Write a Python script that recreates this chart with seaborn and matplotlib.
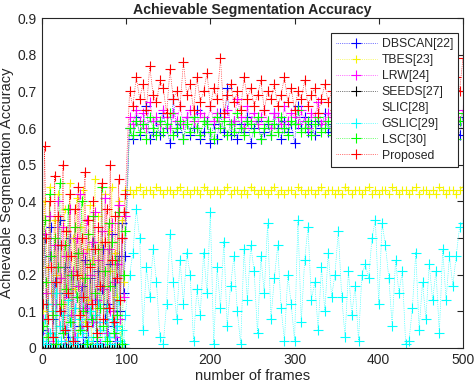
import numpy as np
import pandas as pd
import seaborn as sns
import matplotlib.pyplot as plt

# frames: first 100 sampled every 2, rest every 4
frames_a = list(range(1, 101, 2))
frames_b = list(range(104, 501, 4))

# values in hundredths
dbscan_a = [5, 30, 12, 2, 25, 33, 8, 18, 1, 28, 35, 10, 4, 22, 15, 3, 30, 9, 20, 2,
            14, 26, 6, 17, 1, 24, 11, 3, 19, 7, 29, 13, 2, 21, 5, 16, 27, 8, 12, 3,
            23, 31, 6, 18, 2, 25, 10, 34, 15, 25]
dbscan_b = [60, 57, 63, 58, 61, 66, 57, 59, 62, 58, 64, 60, 56, 68, 59, 61, 57, 63, 58, 60,
            65, 57, 59, 62, 56, 61, 57, 64, 59, 71, 58, 62, 57, 61, 59, 63, 56, 60, 62, 57,
            59, 61, 58, 64, 60, 57, 62, 59, 61, 56, 66, 60, 63, 59, 61, 58, 62, 60, 64, 59,
            61, 58, 63, 60, 57, 62, 59, 61, 58, 64, 60, 57, 62, 59, 61, 58, 60, 63, 57, 62,
            58, 61, 64, 59, 57, 62, 60, 56, 63, 59, 61, 58, 65, 60, 57, 62, 59, 61, 58, 63]

tbes_a = [10, 40, 3, 22, 44, 15, 1, 35, 20, 42, 6, 28, 12, 38, 2, 25, 45, 9, 30, 16,
          41, 4, 33, 19, 43, 7, 27, 13, 39, 1, 24, 46, 11, 36, 5, 29, 17, 42, 3, 32,
          21, 44, 8, 26, 14, 40, 2, 35, 18, 43]
tbes_b = [43, 42, 43, 44, 42, 43, 43, 42, 44, 43, 42, 43, 43, 42, 43, 44, 42, 43, 42, 43,
          43, 42, 44, 43, 42, 43, 43, 42, 43, 44, 42, 43, 43, 42, 43, 42, 44, 43, 42, 43,
          43, 42, 43, 44, 42, 43, 42, 43, 43, 42, 44, 43, 42, 43, 43, 42, 43, 44, 42, 43,
          43, 42, 43, 42, 44, 43, 42, 43, 43, 42, 43, 44, 42, 43, 42, 43, 43, 42, 44, 43,
          42, 43, 43, 42, 43, 44, 42, 43, 43, 42, 43, 42, 44, 43, 42, 43, 43, 42, 43, 44]

lrw_a = [8, 31, 15, 4, 36, 22, 2, 28, 12, 40, 6, 19, 33, 1, 25, 14, 38, 9, 21, 3,
         30, 17, 42, 5, 26, 11, 35, 2, 20, 29, 7, 37, 13, 24, 1, 32, 16, 41, 4, 27,
         10, 34, 18, 3, 23, 39, 8, 30, 14, 36]
lrw_b = [63, 61, 65, 62, 64, 60, 67, 62, 63, 61, 65, 63, 60, 64, 62, 66, 61, 63, 65, 62,
         60, 64, 63, 61, 66, 62, 64, 60, 63, 65, 61, 62, 68, 63, 60, 66, 62, 64, 61, 63,
         65, 62, 60, 64, 63, 61, 66, 62, 64, 63, 61, 65, 62, 60, 64, 63, 67, 61, 62, 64,
         63, 60, 65, 62, 64, 61, 63, 66, 62, 60, 64, 63, 61, 65, 62, 64, 60, 63, 66, 62,
         61, 64, 62, 65, 60, 63, 67, 62, 61, 64, 63, 60, 65, 62, 64, 61, 66, 63, 62, 65]

seeds_a = [0, 0, 0, 0, 0, 0, 0, 0, 0, 0, 0, 0, 0, 0, 0, 0, 0, 0, 0, 0,
           0, 0, 0, 0, 0, 0, 0, 0, 0, 0, 0, 0, 0, 0, 0, 0, 0, 0, 0, 0,
           0, 0, 0, 0, 0, 0, 0, 0, 0, 0]

gslic_a = [2, 8, 1, 12, 4, 0, 10, 3, 15, 1, 6, 2, 9, 0, 5, 13, 2, 7, 1, 11,
           3, 0, 8, 4, 14, 1, 6, 2, 10, 0, 3, 9, 1, 12, 5, 0, 7, 2, 11, 3,
           1, 8, 4, 0, 6, 13, 2, 5, 1, 9]
gslic_b = [20, 26, 38, 30, 5, 22, 14, 27, 18, 3, 1, 12, 31, 18, 8, 24, 12, 26, 20, 2,
           16, 9, 26, 15, 37, 1, 22, 11, 29, 6, 17, 25, 10, 1, 27, 13, 28, 21, 4, 25,
           15, 34, 8, 19, 28, 11, 2, 20, 12, 2, 35, 7, 24, 33, 13, 18, 5, 22, 10, 26,
           14, 20, 32, 14, 3, 21, 9, 17, 2, 20, 23, 19, 30, 35, 12, 34, 28, 19, 6, 24,
           15, 21, 1, 2, 11, 26, 5, 18, 8, 23, 13, 21, 4, 27, 13, 25, 17, 25, 33, 34]

lsc_a = [6, 35, 18, 3, 42, 25, 9, 30, 1, 22, 45, 12, 4, 28, 16, 38, 7, 20, 2, 33,
         14, 26, 5, 40, 10, 19, 1, 31, 23, 8, 36, 15, 3, 27, 11, 44, 6, 21, 2, 34,
         17, 29, 4, 24, 9, 37, 13, 1, 20, 32]
lsc_b = [60, 58, 62, 59, 61, 57, 63, 60, 58, 62, 59, 61, 64, 58, 60, 62, 57, 61, 59, 63,
         60, 58, 62, 61, 59, 57, 63, 60, 62, 58, 61, 59, 64, 60, 58, 62, 61, 59, 63, 57,
         60, 62, 58, 61, 59, 63, 60, 58, 62, 61, 65, 59, 60, 62, 58, 61, 63, 59, 60, 62,
         58, 61, 59, 64, 60, 58, 62, 61, 59, 63, 57, 60, 62, 58, 61, 59, 63, 60, 58, 62,
         59, 61, 63, 58, 60, 62, 57, 61, 64, 59, 60, 62, 58, 61, 63, 59, 60, 57, 62, 64]

prop_a = [12, 55, 30, 8, 40, 22, 3, 47, 18, 36, 10, 28, 50, 5, 32, 15, 42, 25, 2, 38,
          20, 44, 9, 30, 14, 48, 6, 35, 22, 12, 40, 27, 4, 33, 17, 45, 8, 29, 38, 11,
          50, 24, 7, 36, 19, 46, 13, 30, 37, 42]
prop_b = [70, 66, 74, 68, 72, 65, 77, 69, 67, 73, 71, 64, 76, 68, 70, 66, 78, 69, 72, 65,
          74, 67, 70, 75, 66, 71, 68, 79, 64, 69, 72, 67, 70, 65, 74, 68, 71, 66, 69, 73,
          65, 70, 68, 72, 66, 69, 74, 67, 71, 65, 70, 68, 73, 66, 69, 71, 64, 68, 72, 67,
          70, 65, 69, 73, 66, 70, 68, 71, 65, 69, 72, 67, 70, 66, 68, 71, 65, 73, 70, 67,
          69, 72, 66, 70, 74, 67, 71, 65, 69, 73, 68, 70, 66, 72, 69, 71, 67, 74, 70, 79]

labels = ['DBSCAN[22]', 'TBES[23]', 'LRW[24]', 'SEEDS[27]', 'SLIC[28]',
          'GSLIC[29]', 'LSC[30]', 'Proposed']
colors = ['#0000ff', '#f5f500', '#ff00ff', '#000000', '#ffffff',
          '#00ffff', '#00ff00', '#ff0000']

series = [
    (frames_a + frames_b, dbscan_a + dbscan_b),
    (frames_a + frames_b, tbes_a + tbes_b),
    (frames_a + frames_b, lrw_a + lrw_b),
    (frames_a, seeds_a),
    (frames_a, seeds_a),
    (frames_a + frames_b, gslic_a + gslic_b),
    (frames_a + frames_b, lsc_a + lsc_b),
    (frames_a + frames_b, prop_a + prop_b),
]

sns.set_style("white")
plt.rcParams['font.family'] = ['Liberation Sans', 'DejaVu Sans']

fig = plt.figure(figsize=(4.74, 3.87), dpi=100)
ax = fig.add_axes([0.0886, 0.101, 0.888, 0.852])

for (x, y), lab, c in zip(series, labels, colors):
    df = pd.DataFrame({'frame': x, 'acc': np.array(y) / 100})
    z = 1.5 if lab == 'SLIC[28]' else 2
    ms = 5.5 if lab == 'TBES[23]' else 7
    sns.lineplot(data=df, x='frame', y='acc', color=c, linestyle=':', linewidth=0.5,
                 marker='+', markersize=ms, markeredgecolor=c, markeredgewidth=0.8,
                 label=lab, ax=ax, estimator=None, sort=False, zorder=z)

ax.set_xlim(0, 500)
ax.set_ylim(0, 0.9)
ax.set_xticks([0, 100, 200, 300, 400, 500])
ax.set_yticks(np.arange(0, 0.91, 0.1))
ax.set_yticklabels(['0', '0.1', '0.2', '0.3', '0.4', '0.5', '0.6', '0.7', '0.8', '0.9'])
ax.tick_params(direction='in', length=4, width=0.8, top=True, right=True,
               labelsize=10, colors='#262626', pad=4)
for s in ax.spines.values():
    s.set_color('#262626')
    s.set_linewidth(0.8)

ax.set_title('Achievable Segmentation Accuracy', fontsize=10.2, fontweight='bold', pad=3)
ax.set_xlabel('number of frames', fontsize=10.5, labelpad=1)
ax.set_ylabel('Achievable Segmentation Accuracy', fontsize=10.5, labelpad=2)

leg = ax.legend(loc='upper right', bbox_to_anchor=(0.998, 0.967), fontsize=8.8,
                frameon=True, fancybox=False, edgecolor='#262626', framealpha=1,
                handlelength=3.3, labelspacing=0.32, borderpad=0.45, handletextpad=0.4,
                borderaxespad=0.3)
leg.get_frame().set_linewidth(0.8)

fig.savefig('out.png', dpi=100)
